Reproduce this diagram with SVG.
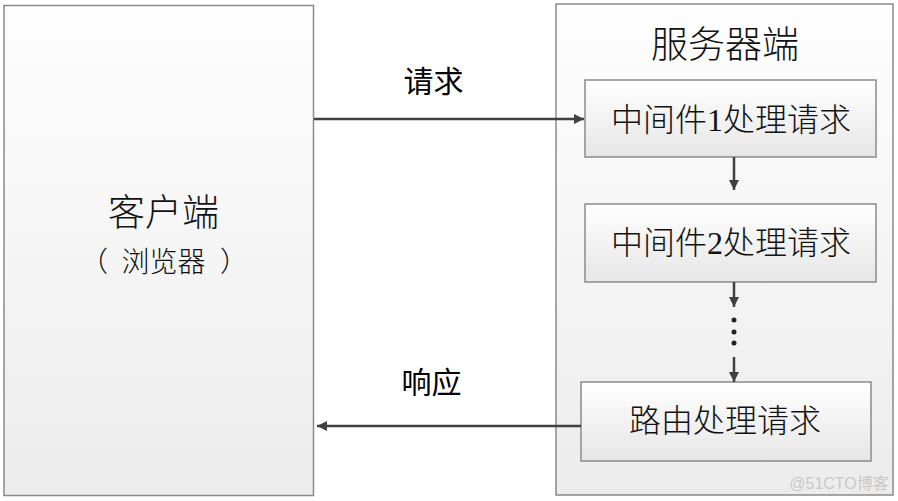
<svg xmlns="http://www.w3.org/2000/svg" width="898" height="501" viewBox="0 0 898 501">
<defs>
<linearGradient id="gBig" x1="0" y1="0" x2="0" y2="1"><stop offset="0" stop-color="#fefefe"/><stop offset="1" stop-color="#ececec"/></linearGradient>
<linearGradient id="gSmall" x1="0" y1="0" x2="0" y2="1"><stop offset="0" stop-color="#ffffff"/><stop offset="1" stop-color="#e6e6e6"/></linearGradient>
<marker id="arr" viewBox="0 0 10 10" refX="10" refY="5" markerWidth="10" markerHeight="10" markerUnits="userSpaceOnUse" orient="auto"><path d="M0,0 L10,5 L0,10 Z" fill="#404040"/></marker>
<style>
.box{stroke:#8a8a8a;stroke-width:1.5}
.t{font-family:"Liberation Serif","Noto Sans CJK SC",serif;fill:#111;text-anchor:middle;font-weight:300}
.cjk{font-family:"Noto Sans CJK SC",sans-serif;fill:#111;text-anchor:middle;font-weight:300;font-size:28px}
.lbl{font-family:"Noto Sans CJK SC",sans-serif;fill:#000;text-anchor:middle;font-size:30px}
.c{stroke:#404040;stroke-width:2.5;fill:none}
</style>
</defs>
<rect width="898" height="501" fill="#ffffff"/>
<g id="client">
<rect class="box" x="4" y="5.5" width="309.5" height="490" fill="url(#gBig)"/>
<text class="t" x="163.5" y="226" font-size="37">客户端</text>
<text class="cjk" y="272"><tspan x="94">（</tspan><tspan x="163.5">浏览器</tspan><tspan x="234">）</tspan></text>
</g>
<g id="server">
<rect class="box" x="556" y="4" width="337" height="491" fill="url(#gBig)"/>
<text class="t" x="725" y="58" font-size="37">服务器端</text>
</g>
<g id="mw1">
<rect class="box" x="585" y="80" width="291" height="77" fill="url(#gSmall)"/>
<text class="t" x="731" y="131" font-size="32">中间件1处理请求</text>
</g>
<g id="mw2">
<rect class="box" x="585" y="204" width="291" height="78" fill="url(#gSmall)"/>
<text class="t" x="731" y="254" font-size="32">中间件2处理请求</text>
</g>
<g id="router">
<rect class="box" x="581" y="382" width="290" height="79" fill="url(#gSmall)"/>
<text class="t" x="725" y="432" font-size="32">路由处理请求</text>
</g>
<g id="connectors">
<line class="c" x1="314" y1="119" x2="584" y2="119" marker-end="url(#arr)"/>
<line class="c" x1="581" y1="426" x2="317" y2="426" marker-end="url(#arr)"/>
<line class="c" x1="734" y1="157" x2="734" y2="190" marker-end="url(#arr)"/>
<line class="c" x1="734" y1="282" x2="734" y2="307" marker-end="url(#arr)"/>
<line class="c" x1="734" y1="357" x2="734" y2="382" marker-end="url(#arr)"/>
<circle cx="734" cy="320" r="2.5" fill="#222"/>
<circle cx="734" cy="332" r="2.5" fill="#222"/>
<circle cx="734" cy="343" r="2.5" fill="#222"/>
<text class="lbl" x="433.5" y="92">请求</text>
<text class="lbl" x="431.5" y="393">响应</text>
</g>
<text x="839" y="489" font-family="Liberation Sans,Noto Sans CJK SC,sans-serif" font-size="16" fill="#c8c8c8" text-anchor="middle">@51CTO博客</text>
</svg>
